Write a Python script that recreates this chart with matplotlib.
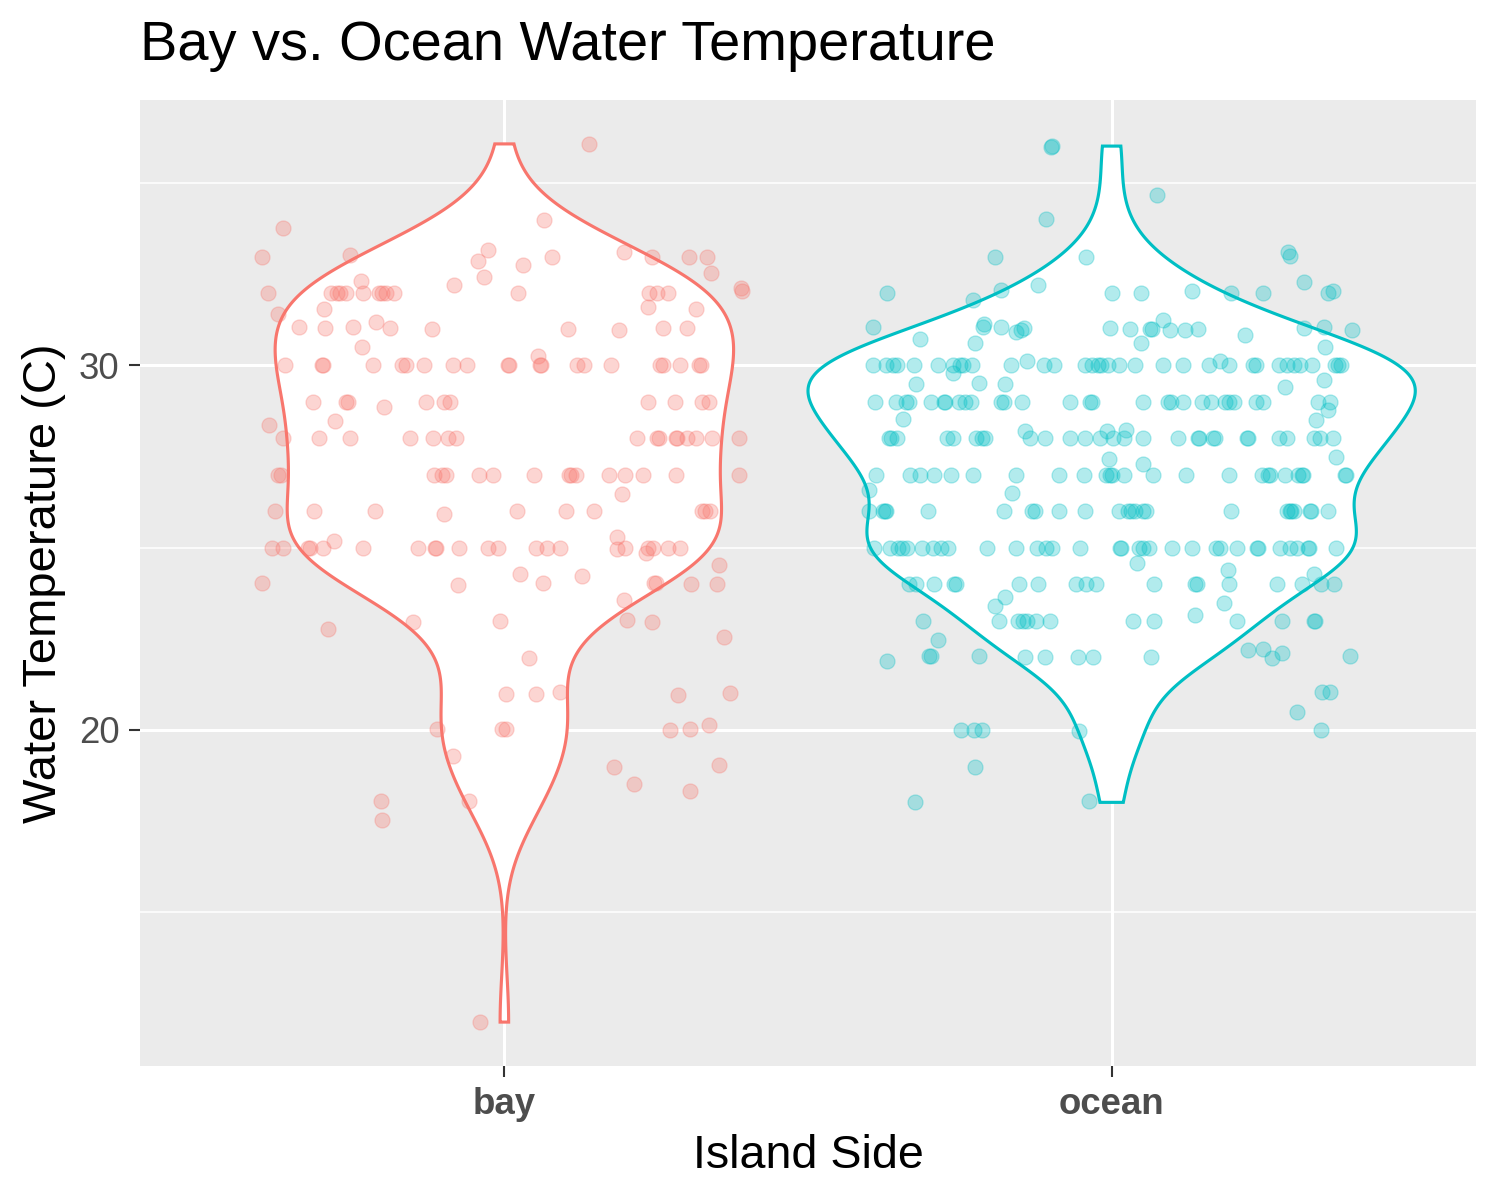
import numpy as np
import matplotlib
matplotlib.use("Agg")
import matplotlib.pyplot as plt
from matplotlib.patches import Polygon
from matplotlib.ticker import FixedLocator

plt.rcParams['font.family'] = ['Liberation Sans', 'DejaVu Sans']

categories = ["bay", "ocean"]
colors = ["#F8766D", "#00BFC4"]

# ---- bay: water temperature (C) and horizontal jitter offset (category units)
bay_temp = [
    36.08, 33.76, 32.99, 33.03, 33.98, 33.16, 32.87, 32.42, 32.77, 32.97, 32.2, 33.12, 32.97, 32.97,
    32.99, 32.53, 32.13, 32.03, 31.99, 32.33, 32.0, 32.0, 32.0, 32.0, 32.0, 32.0, 32.0, 32.0, 32.0,
    32.0, 32.0, 32.0, 32.0, 31.6, 31.55, 31.55, 31.4, 31.05, 31.03, 31.05, 31.2, 31.03, 31.0, 31.0,
    30.97, 31.03, 31.03, 30.51, 30.25,
    30.0, 30.0, 30.0, 30.0, 30.0, 30.0, 30.0, 30.0, 30.0, 30.0, 30.0, 30.0, 30.0, 30.0, 30.0, 30.0,
    30.0, 30.0, 30.0, 30.0, 30.0,
    28.99, 28.99, 28.99, 28.86, 28.99, 28.99, 28.99, 28.99, 28.99, 28.99, 28.99, 28.48, 28.36,
    28.0, 28.0, 28.0, 28.0, 28.0, 28.0, 28.0, 28.0, 28.0, 28.0, 28.0, 28.0, 28.0, 28.0, 28.0, 28.0,
    27.0, 27.0, 27.0, 27.0, 27.0, 27.0, 27.0, 27.0, 27.0, 27.0, 27.0, 27.0, 27.0, 27.0, 27.0, 27.0,
    26.48,
    26.0, 26.0, 26.0, 25.93, 26.0, 26.0, 26.0, 26.0, 26.0, 26.0,
    25.0, 25.0, 25.0, 25.0, 25.0, 25.18, 25.0, 25.0, 25.0, 25.0, 25.0, 25.0, 25.0, 25.0, 25.0, 25.0,
    25.3, 24.95, 25.0, 24.85, 25.0, 25.0, 25.0, 25.0,
    24.04, 23.98, 24.28, 24.04, 24.23, 24.04, 24.04, 23.99, 24.0, 24.53, 23.55,
    23.02, 22.97, 22.97, 23.0, 22.78, 22.54, 21.98,
    20.99, 20.99, 21.05, 20.96, 21.01, 20.01, 20.03, 20.03, 19.99, 20.03, 20.12,
    19.27, 18.97, 18.51, 19.03, 18.31, 18.04, 18.04, 17.52, 11.98,
]
bay_jitter = [
    0.140, -0.365, -0.399, -0.254, 0.065, -0.027, -0.044, -0.033, 0.031, 0.079, -0.083, 0.197, 0.243, 0.304,
    0.334, 0.341, 0.390, 0.392, -0.389, -0.236, -0.285, -0.276, -0.270, -0.260, -0.232, -0.207, -0.201, -0.195, -0.181,
    0.023, 0.238, 0.252, 0.270, 0.236, 0.315, -0.297, -0.373, -0.338, -0.295, -0.249, -0.211, -0.188, -0.119, 0.105,
    0.189, 0.261, 0.301, -0.234, 0.055,
    -0.361, -0.300, -0.298, -0.216, -0.169, -0.162, -0.132, -0.085, -0.061, 0.006, 0.008, 0.058, 0.060, 0.120, 0.131, 0.176,
    0.256, 0.261, 0.290, 0.321, 0.324,
    -0.315, -0.260, -0.257, -0.199, -0.129, -0.099, -0.090, 0.237, 0.281, 0.325, 0.337, -0.279, -0.387,
    -0.364, -0.306, -0.254, -0.155, -0.117, -0.093, -0.080, 0.219, 0.252, 0.255, 0.282, 0.285, 0.300, 0.315, 0.342, 0.387,
    -0.372, -0.368, -0.116, -0.103, -0.096, -0.041, -0.019, 0.049, 0.106, 0.109, 0.118, 0.172, 0.198, 0.229, 0.283, 0.387,
    0.193,
    -0.377, -0.313, -0.213, -0.099, 0.021, 0.102, 0.148, 0.326, 0.331, 0.339,
    -0.382, -0.364, -0.324, -0.320, -0.299, -0.281, -0.232, -0.142, -0.115, -0.113, -0.074, -0.027, -0.010, 0.052, 0.070, 0.092,
    0.186, 0.186, 0.198, 0.233, 0.236, 0.245, 0.270, 0.290,
    -0.399, -0.077, 0.026, 0.064, 0.128, 0.246, 0.250, 0.308, 0.350, 0.354, 0.197,
    0.202, 0.243, -0.150, -0.007, -0.290, 0.362, 0.041,
    0.003, 0.052, 0.091, 0.286, 0.372, -0.111, -0.004, 0.003, 0.272, 0.306, 0.337,
    -0.084, 0.180, 0.214, 0.353, 0.306, -0.203, -0.059, -0.201, -0.040,
]

# ---- ocean
ocean_temp = [
    36.0, 36.02, 34.67, 34.01, 32.97, 32.97, 33.1, 33.01, 32.28, 31.98, 31.8, 32.07, 32.2, 32.0, 32.0,
    32.03, 31.99, 31.98, 31.98, 32.03,
    31.05, 30.72, 31.14, 31.05, 30.61, 31.05, 30.91, 30.96, 31.03, 31.02, 30.99, 30.99, 30.99, 31.26,
    30.96, 30.96, 30.99, 30.61, 30.83, 31.02, 31.05, 30.96, 30.51,
    30.0, 30.0, 30.0, 30.0, 30.0, 30.0, 30.0, 30.0, 30.0, 30.0, 30.0, 30.11, 30.0, 30.0, 30.0, 30.0,
    30.0, 30.0, 30.0, 30.0, 30.0, 30.0, 30.0, 30.0, 30.11, 30.0, 30.0, 30.0, 30.0, 30.0, 30.0, 30.0,
    30.0, 30.0, 30.0, 30.0,
    29.79, 29.5, 29.52, 29.5, 29.41, 29.59,
    29.0, 29.0, 29.0, 29.0, 29.0, 29.0, 29.0, 29.0, 29.0, 29.0, 29.0, 29.0, 29.0, 29.0, 29.0, 29.0,
    29.0, 29.0, 29.0, 29.0, 29.0, 29.0, 29.0, 29.0, 29.0, 29.0, 29.0, 29.0, 29.0,
    28.77, 28.54, 28.51,
    28.0, 28.0, 28.0, 28.0, 28.0, 28.0, 28.0, 28.0, 28.2, 28.0, 28.0, 28.0, 28.0, 28.0, 28.2, 28.0,
    28.0, 28.24, 28.0, 28.0, 28.0, 28.0, 28.0, 28.0, 28.0, 28.0, 28.0, 28.0, 28.0, 28.0, 28.0,
    27.44, 27.29, 27.49,
    27.0, 27.0, 27.0, 27.0, 27.0, 27.0, 27.0, 27.0, 27.0, 27.0, 27.0, 27.0, 27.0, 27.0, 27.0, 27.0,
    27.0, 27.0, 27.0, 27.0, 27.0, 27.0, 27.0, 27.0, 27.0,
    26.59, 26.5,
    26.0, 26.0, 26.0, 26.0, 26.0, 26.0, 26.0, 26.0, 26.0, 26.0, 26.0, 26.0, 26.0, 26.0, 26.0, 26.0,
    26.0, 26.0, 26.0, 26.0, 26.0, 26.0, 26.0, 26.0,
    25.0, 25.0, 25.0, 25.0, 25.0, 25.0, 25.0, 25.0, 25.0, 25.0, 25.0, 25.0, 25.0, 25.0, 25.0, 25.0,
    25.0, 25.0, 25.0, 25.0, 25.0, 25.0, 25.0, 25.0, 25.0, 25.0, 25.0, 25.0, 25.0, 25.0, 25.0, 25.0, 25.0,
    24.58, 24.38, 24.29,
    24.0, 24.0, 24.0, 24.0, 24.0, 24.0, 24.0, 24.0, 24.0, 24.0, 24.0, 24.0, 24.0, 24.0, 24.0, 24.0,
    24.0, 24.0,
    23.65, 23.4, 23.49,
    23.0, 23.0, 23.0, 23.0, 23.0, 23.0, 23.0, 23.0, 23.0, 23.16, 23.0, 23.0, 23.0, 23.0,
    22.47, 21.88, 22.03, 22.03, 22.04, 22.01, 22.01, 22.01, 22.01, 22.01, 22.19, 22.23, 21.98, 22.12, 22.04,
    21.03, 21.03, 20.48, 20.0, 20.0, 20.0, 19.98, 20.0, 18.99, 18.01, 18.04,
]
ocean_jitter = [
    -0.100, -0.098, 0.075, -0.108, -0.192, -0.042, 0.291, 0.293, 0.317, -0.370, -0.229, -0.182, -0.121, 0.000, 0.048,
    0.132, 0.196, 0.250, 0.356, 0.364,
    -0.393, -0.315, -0.210, -0.212, -0.225, -0.182, -0.157, -0.150, -0.145, -0.002, 0.030, 0.063, 0.067, 0.085,
    0.096, 0.120, 0.143, 0.049, 0.219, 0.317, 0.349, 0.395, 0.352,
    -0.393, -0.372, -0.360, -0.354, -0.326, -0.286, -0.261, -0.250, -0.245, -0.230, -0.165, -0.140, -0.112, -0.095, -0.044, -0.033,
    -0.023, -0.017, -0.006, 0.012, 0.038, 0.084, 0.117, 0.160, 0.179, 0.193, 0.233, 0.238, 0.276, 0.288, 0.301, 0.310,
    0.330, 0.367, 0.373, 0.378,
    -0.262, -0.322, -0.219, -0.175, 0.285, 0.350,
    -0.390, -0.355, -0.338, -0.334, -0.297, -0.276, -0.274, -0.252, -0.242, -0.231, -0.183, -0.178, -0.148, -0.069, -0.035, -0.032,
    0.051, 0.093, 0.098, 0.117, 0.148, 0.164, 0.186, 0.194, 0.201, 0.238, 0.249, 0.340, 0.359,
    0.357, -0.343, 0.336,
    -0.366, -0.363, -0.353, -0.271, -0.262, -0.224, -0.213, -0.209, -0.143, -0.135, -0.109, -0.069, -0.044, -0.019, -0.008, 0.003,
    0.020, 0.023, 0.052, 0.110, 0.142, 0.144, 0.167, 0.170, 0.223, 0.225, 0.276, 0.289, 0.333, 0.343, 0.365,
    -0.004, 0.051, 0.369,
    -0.388, -0.332, -0.315, -0.293, -0.264, -0.229, -0.157, -0.086, -0.046, -0.009, -0.002, 0.000, 0.021, 0.068, 0.123, 0.194,
    0.247, 0.258, 0.260, 0.285, 0.307, 0.313, 0.315, 0.384, 0.386,
    -0.399, -0.164,
    -0.400, -0.377, -0.374, -0.372, -0.303, -0.178, -0.131, -0.127, -0.086, -0.044, 0.012, 0.027, 0.032, 0.038, 0.052, 0.057,
    0.196, 0.288, 0.293, 0.295, 0.301, 0.326, 0.329, 0.357,
    -0.392, -0.365, -0.352, -0.345, -0.337, -0.312, -0.294, -0.281, -0.269, -0.205, -0.157, -0.123, -0.108, -0.099, -0.052, 0.014,
    0.016, 0.045, 0.052, 0.061, 0.100, 0.133, 0.172, 0.179, 0.206, 0.239, 0.241, 0.278, 0.293, 0.305, 0.323, 0.325, 0.370,
    0.042, 0.191, 0.334,
    -0.334, -0.322, -0.292, -0.259, -0.257, -0.152, -0.122, -0.058, -0.042, -0.025, 0.069, 0.137, 0.141, 0.194, 0.273, 0.314,
    0.345, 0.366,
    -0.176, -0.192, 0.185,
    -0.310, -0.186, -0.155, -0.146, -0.139, -0.125, -0.102, 0.036, 0.070, 0.138, 0.207, 0.281, 0.333, 0.335,
    -0.286, -0.370, -0.300, -0.297, -0.219, -0.143, -0.109, -0.056, -0.030, 0.065, 0.225, 0.249, 0.264, 0.280, 0.392,
    0.347, 0.359, 0.305, -0.248, -0.226, -0.214, -0.053, 0.344, -0.225, -0.323, -0.038,
]

y_ticks = [20, 30]
y_minor = [15, 25, 35]

groups = [np.array(bay_temp), np.array(ocean_temp)]
jitters = [np.array(bay_jitter), np.array(ocean_jitter)]


def nrd0(x):
    sd = np.std(x, ddof=1)
    iqr = np.subtract(*np.percentile(x, [75, 25]))
    lo = min(sd, iqr / 1.34)
    return 0.9 * lo * len(x) ** (-0.2)


dens = []
for g in groups:
    bw = nrd0(g)
    yy = np.linspace(g.min(), g.max(), 512)
    d = np.exp(-0.5 * ((yy[:, None] - g[None, :]) / bw) ** 2).sum(axis=1) / (len(g) * bw * np.sqrt(2 * np.pi))
    dens.append((yy, d))
dmax = max(d.max() for _, d in dens)
vwidth = 1.0

fig = plt.figure(figsize=(5, 4), dpi=300)
ax = fig.add_axes([140 / 1500, 1 - 1066 / 1200, 1336 / 1500, 966 / 1200])
ax.set_facecolor("#EBEBEB")
for s in ax.spines.values():
    s.set_visible(False)

allv = np.concatenate(groups)
rng = allv.max() - allv.min()
ax.set_ylim(allv.min() - 0.05 * rng, allv.max() + 0.05 * rng)
ax.set_xlim(0.4, 2.6)

ax.yaxis.set_major_locator(FixedLocator(y_ticks))
ax.yaxis.set_minor_locator(FixedLocator(y_minor))
ax.set_xticks([1, 2])
ax.set_xticklabels(categories, fontweight="bold")
ax.grid(which="major", color="white", linewidth=0.72)
ax.grid(which="minor", axis="y", color="white", linewidth=0.36)
ax.set_axisbelow(True)
ax.tick_params(which="major", length=2.75, width=0.5, color="#333333", labelsize=8.8,
               labelcolor="#4D4D4D", pad=2.2)
ax.tick_params(which="minor", length=0)

for i, ((yy, d), g, j, c) in enumerate(zip(dens, groups, jitters, colors)):
    xc = i + 1
    half = d / dmax * vwidth / 2
    px = np.concatenate([xc - half, (xc + half)[::-1]])
    py = np.concatenate([yy, yy[::-1]])
    poly = Polygon(np.column_stack([px, py]), closed=True, facecolor="white",
                   edgecolor=c, linewidth=0.75, zorder=2)
    ax.add_patch(poly)
    ax.scatter(xc + j, g, s=13, color=c, alpha=0.3, linewidths=0.3, edgecolors=c, zorder=3)

ax.set_xlabel("Island Side", fontsize=11.2, color="black", labelpad=3)
ax.set_ylabel("Water Temperature (C)", fontsize=11.3, color="black", labelpad=3)
ax.set_title("Bay vs. Ocean Water Temperature", loc="left", fontsize=13.45, pad=9.5)

fig.savefig("out.png", dpi=300, facecolor="white")
